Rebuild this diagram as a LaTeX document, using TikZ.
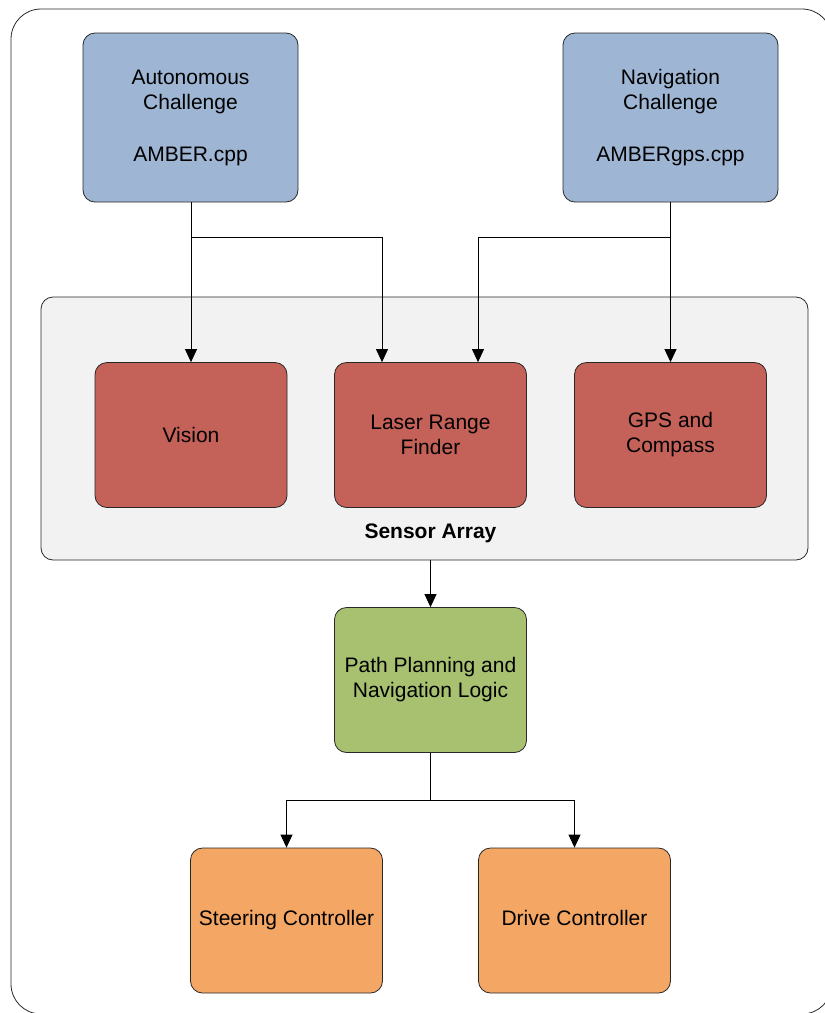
\documentclass[tikz,border=0pt]{standalone}
\usepackage{fontspec}
\setmainfont{Liberation Sans}
\usepackage{tikz}
\usetikzlibrary{positioning, arrows.meta, calc}

\definecolor{progblue}{RGB}{158,181,211}
\definecolor{sensred}{RGB}{196,97,88}
\definecolor{logicgreen}{RGB}{167,193,112}
\definecolor{ctrlorange}{RGB}{244,166,101}
\definecolor{arraygray}{RGB}{242,242,242}
\definecolor{edgegray}{RGB}{40,40,40}

\begin{document}
\begin{tikzpicture}[x=1pt, y=-1pt,
    every node/.style={font=\fontsize{21}{25}\selectfont, align=center, inner sep=0pt},
    block/.style={draw=edgegray, line width=0.8pt, rounded corners=12pt, minimum width=192pt, minimum height=145pt},
    progbox/.style={block, fill=progblue, minimum width=215pt, minimum height=169pt},
    arr/.style={line width=0.8pt, -{Triangle[width=12pt,length=13pt]}}]
      \useasboundingbox (0,0) rectangle (825,1013);
      \clip (0,0) rectangle (825,1013);

      % Outer frame
      \draw[line width=0.8pt, edgegray, rounded corners=30pt] (11,9) rectangle (832,1014);

      % Programs
      \node[progbox] (auto) at (190.5,117.5) {Autonomous\\Challenge\\[27pt]AMBER.cpp};
      \node[progbox] (nav) at (670.5,117.5) {Navigation\\Challenge\\[27pt]AMBERgps.cpp};

      % Sensor array
      \node[draw=edgegray, line width=0.8pt, rounded corners=12pt, fill=arraygray,
            minimum width=767pt, minimum height=263pt] (sensors) at (424.5,428.5) {};
      \node (sensorlabel) at (430.5,533) {\bfseries Sensor Array\strut};

      \node[block, fill=sensred] (vision) at (191,435) {Vision};
      \node[block, fill=sensred] (laser) at (430.5,435) {Laser Range\\Finder};
      \node[block, fill=sensred] (gps) at (670.5,435) {GPS and\\Compass};

      % Logic
      \node[block, fill=logicgreen] (logic) at (430.5,680) {Path Planning and\\Navigation Logic};

      % Controllers
      \node[block, fill=ctrlorange] (steer) at (286.5,920.5) {Steering Controller\strut};
      \node[block, fill=ctrlorange] (drive) at (574.5,920.5) {Drive Controller\strut};

      % Connectors
      \coordinate (autosplit) at (191,237);
      \coordinate (navsplit) at (670.5,237);
      \coordinate (logicsplit) at (430.5,800);

      \draw[arr] (auto.south -| vision.north) -- (vision.north);
      \draw[arr] (autosplit) -| ([xshift=-48.5pt]laser.north);
      \draw[arr] (nav.south) -- (gps.north);
      \draw[arr] (navsplit) -| ([xshift=47.5pt]laser.north);

      \draw[arr] (sensors.south -| logic.north) -- (logic.north);

      \draw[line width=0.8pt] (logic.south) -- (logicsplit);
      \draw[arr] (logicsplit) -| (steer.north);
      \draw[arr] (logicsplit) -| (drive.north);
    \end{tikzpicture}
\end{document}
